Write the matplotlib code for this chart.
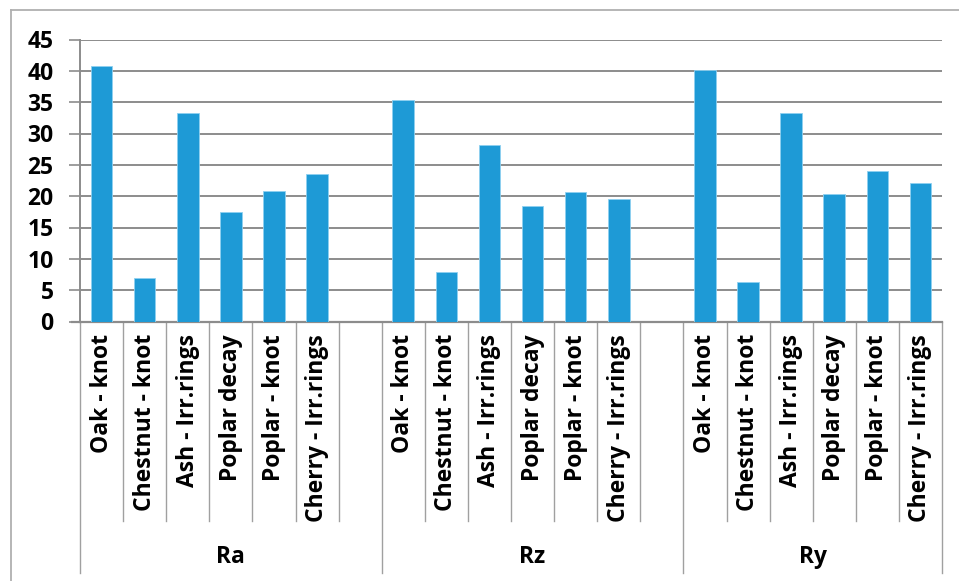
import numpy as np
import matplotlib.pyplot as plt
from matplotlib.lines import Line2D
import matplotlib.transforms as mtransforms

plt.rcParams['font.family'] = ['Open Sans', 'DejaVu Sans']

groups = ["Ra", "Rz", "Ry"]
defects = ["Oak - knot", "Chestnut - knot", "Ash - Irr.rings",
           "Poplar decay", "Poplar - knot", "Cherry - Irr.rings"]
ra = [40.8, 6.9, 33.2, 17.4, 20.9, 23.6]
rz = [35.4, 7.9, 28.2, 18.5, 20.6, 19.6]
ry = [40.2, 6.3, 33.2, 20.3, 24.0, 22.1]
values = [ra, rz, ry]

bar_color = "#1E9AD6"
grid_color = "#8c8c8c"
slots = 7  # six bars + one empty slot per group
n_slots = slots * 2 + len(defects)

fig = plt.figure(figsize=(9.59, 5.81), dpi=100)
ax = fig.add_axes([80 / 959, 1 - 321.5 / 581, 862 / 959, 282 / 581])

for g, vals in enumerate(values):
    xs = [g * slots + i for i in range(len(vals))]
    ax.bar(xs, vals, width=0.5, color=bar_color, edgecolor="#8fd0f0",
           linewidth=0.6, zorder=3)

ax.set_xlim(-0.5, n_slots - 0.5)
ax.set_ylim(0, 45)
ax.set_yticks(np.arange(0, 46, 5))
ax.yaxis.grid(True, color=grid_color, linewidth=1.4)
ax.set_axisbelow(True)
ax.tick_params(axis="y", length=8, width=1.2, color=grid_color, labelsize=16.5, pad=11)
for lab in ax.get_yticklabels():
    lab.set_fontweight("bold")
ax.set_xticks([])
for side in ["top", "right"]:
    ax.spines[side].set_visible(False)
ax.spines["left"].set_color(grid_color)
ax.spines["left"].set_linewidth(1.4)
ax.spines["bottom"].set_color(grid_color)
ax.spines["bottom"].set_linewidth(1.6)
# little stub of x axis line left of y axis
ax.plot([-0.68, -0.5], [0, 0], color=grid_color, lw=1.6, clip_on=False)

trans = mtransforms.blended_transform_factory(ax.transData, ax.transAxes)
cat_bottom = -0.707
grp_bottom = -0.892

# category separators and labels
for k in range(n_slots + 1):
    x = k - 0.5
    is_group_edge = k % slots == 0 or k == n_slots
    ax.plot([x, x], [0, grp_bottom if is_group_edge else cat_bottom],
            transform=trans, color="#a0a0a0", lw=1.0, clip_on=False)

for g, name in enumerate(groups):
    for i, d in enumerate(defects):
        ax.text(g * slots + i, -0.045, d, transform=trans, rotation=90,
                ha="center", va="top", fontsize=16.5, fontweight="bold")
    start = g * slots - 0.5
    end = min(start + slots, n_slots - 0.5)
    ax.text((start + end) / 2, -0.835, name, transform=trans, ha="center",
            va="center", fontsize=16.5, fontweight="bold")

# outer chart frame (top and left edges visible)
fig.add_artist(Line2D([11 / 959, 1.0], [1 - 10 / 581, 1 - 10 / 581],
                      transform=fig.transFigure, color="#b0b0b0", lw=1.3))
fig.add_artist(Line2D([11 / 959, 11 / 959], [0, 1 - 10 / 581],
                      transform=fig.transFigure, color="#b0b0b0", lw=1.3))

fig.savefig("out.png", dpi=100)
